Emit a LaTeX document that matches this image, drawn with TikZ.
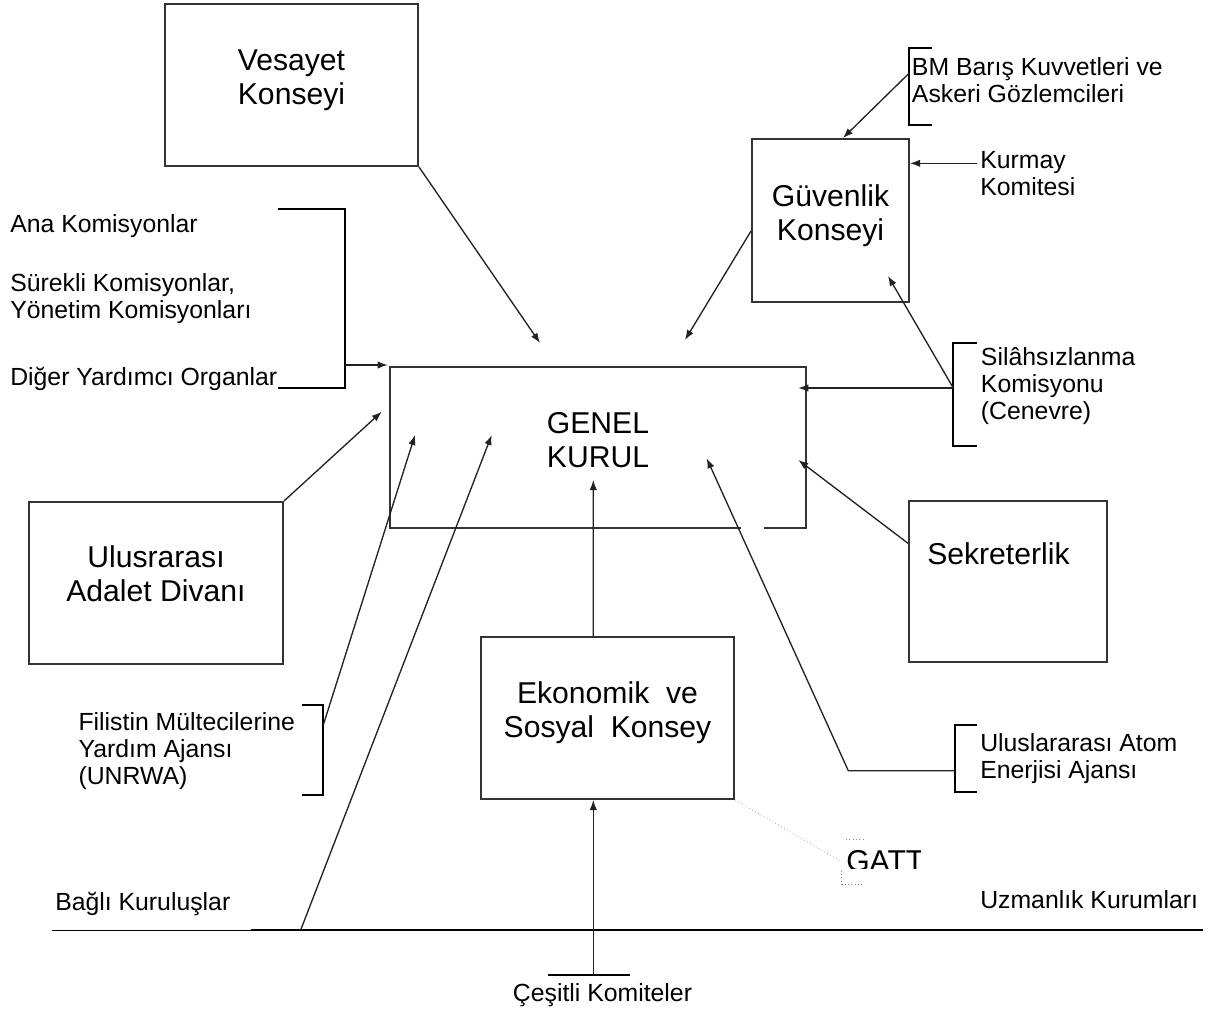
\documentclass[tikz,border=0pt]{standalone}
\usepackage{fontspec}
\setmainfont{Liberation Sans}
\usetikzlibrary{arrows.meta,fit,calc}
\definecolor{boxgray}{HTML}{333333}
\definecolor{arrgray}{HTML}{222222}
\definecolor{dotgray}{HTML}{8A8A8A}
\begin{document}
\begin{tikzpicture}[x=0.75pt,y=-0.75pt,
  box/.style={draw=boxgray, line width=1.5pt, inner sep=0pt},
  bigtxt/.style={font=\fontsize{22.6}{25.5}\selectfont, align=center, inner sep=0pt},
  smalltxt/.style={font=\fontsize{18.6}{20.25}\selectfont, align=left, inner sep=0pt},
  arr/.style={draw=arrgray, line width=1pt, -{Latex[length=7.5pt,width=5.5pt]}},
  brk/.style={draw=black, line width=1.5pt},
  dotln/.style={draw=dotgray, line width=0.5pt, dotted}]
\useasboundingbox (0,0) rectangle (1222,1013);

% boxes
\node[box, fit={(165,4) (418,166)}] (ves) {};
\node[box, fit={(752,139) (909,302)}] (gv) {};
\node[inner sep=0pt, fit={(390,367) (806,528)}] (gk) {};
\draw[boxgray, line width=1.5pt] ($(gk.south east)+(-42.7,0)$) -- (gk.south east) -- (gk.north east) -- (gk.north west) -- (gk.south west) -- ($(gk.south west)+(351.7,0)$);
\node[box, fit={(29,502) (283,664)}] (ulus) {};
\node[box, fit={(909,501) (1107,662)}] (sek) {};
\node[box, fit={(481,637) (734,799)}] (eko) {};

% big texts
\node[bigtxt, anchor=north] (vesT) at (291.5,46.2) {Vesayet\strut\\Konseyi\strut};
\node[bigtxt, anchor=north] (gvT) at (830.5,182.2) {Güvenlik\strut\\Konseyi\strut};
\node[bigtxt, anchor=north] (gkT) at (598,409.2) {GENEL\strut\\KURUL\strut};
\node[bigtxt, anchor=north] (ulusT) at (156,543.2) {Ulusrarası\strut\\Adalet Divanı\strut};
\node[bigtxt, anchor=north] (ekoT) at (607.5,679.2) {Ekonomik\ \ ve\strut\\Sosyal\ \ Konsey\strut};
\node[bigtxt, anchor=base west] (sekT) at (927,564) {Sekreterlik};
\begin{scope}
  \clip (830,830) rectangle (920,868);
  \node[bigtxt, anchor=base west] (gatt) at (846,871) {GATT};
\end{scope}

% small texts
\node[smalltxt, anchor=north west] (bmT) at (911.7,56.1) {BM Barış Kuvvetleri ve\strut\\Askeri Gözlemcileri\strut};
\node[smalltxt, anchor=north west] (kurT) at (980,149.1) {Kurmay\strut\\Komitesi\strut};
\node[smalltxt, anchor=base west] (anaT) at (10,233) {Ana Komisyonlar};
\node[smalltxt, anchor=north west] (surT) at (10,272.8) {Sürekli Komisyonlar,\strut\\Yönetim Komisyonları\strut};
\begin{scope}
  \clip (0,350) rectangle (276.5,400);
  \node[smalltxt, anchor=base west] (digT) at (10,385) {Diğer Yardımcı Organlar};
\end{scope}
\node[smalltxt, anchor=north west] (silT) at (980.7,346.8) {Silâhsızlanma\strut\\Komisyonu\strut\\(Cenevre)\strut};
\node[smalltxt, anchor=north west] (filT) at (78.3,711.1) {Filistin Mültecilerine\strut\\Yardım Ajansı\strut\\(UNRWA)\strut};
\node[smalltxt, anchor=north west] (atomT) at (980,732.8) {Uluslararası Atom\strut\\Enerjisi Ajansı\strut};
\node[smalltxt, anchor=base west] (bagT) at (55,910) {Bağlı Kuruluşlar};
\node[smalltxt, anchor=base west] (uzmT) at (980,908.3) {Uzmanlık Kurumları};
\node[smalltxt, anchor=base] (cesT) at (602.5,1001.7) {Çeşitli Komiteler};

% brackets
\draw[brk] (931.7,48.3) -- (909.3,48.3) -- (909.3,125) -- (931.7,125);
\draw[brk] (278,209.3) -- (345,209.3) -- (345,388.3) -- (278,388.3);
\draw[brk] (976.7,342.7) -- (953.3,342.7) -- (953.3,446) -- (976.7,446);
\draw[brk] (301.7,705) -- (323.3,705) -- (323.3,795) -- (301.7,795);
\draw[brk] (976.7,725) -- (955,725) -- (955,791.7) -- (976.7,791.7);
\draw[brk] (548.3,975) -- (630,975);

% base lines
\coordinate (baseL) at (51.7,930);
\coordinate (baseM) at (250.7,930);
\coordinate (baseR) at (1202.7,930);
\draw[black, line width=0.6pt] (baseL) -- (baseM);
\draw[black, line width=1.6pt] (baseM) -- (baseR);

% connector points
\coordinate (vesTip) at (540,343);
\coordinate (gvTip) at (685,340);
\coordinate (bmB) at (909.3,73);
\coordinate (kurA) at (976.7,163.3);
\coordinate (anaB) at (345,365);
\coordinate (silB) at (953.3,388);
\coordinate (silTip) at (798.3,388);
\coordinate (silUp) at (888,276);
\coordinate (sekTip) at (798.3,460);
\coordinate (atomB) at (955,770.7);
\coordinate (atomK) at (848.3,770.7);
\coordinate (atomTip) at (706.7,458.3);
\coordinate (ekoTip) at (593.3,480);
\coordinate (cesB) at (593.3,975);
\coordinate (bagB) at (300.7,930);
\coordinate (bagTip) at (491.7,435);
\coordinate (filB) at (323.3,725);
\coordinate (filTip) at (415,435);
\coordinate (ulusTip) at (381.7,411.7);
\coordinate (gattA) at (841.7,861.7);

% connectors
\draw[arr] (ves.south east) -- (vesTip);
\draw[arr] ($(gv.west)+(0,10.5)$) -- (gvTip);
\draw[arr] (bmB) -- ($(gv.north)+(12.5,0)$);
\draw[arr] (kurA) -- (kurA -| gv.east);
\draw[arr] (anaB) -- ($(anaB -| gk.west)+(-2,0)$);
\draw[arr] (silB) -- (silTip);
\draw[arr] (silB) -- (silUp);
\draw[arr] ($(sek.north west)+(0,43.3)$) -- (sekTip);
\draw[arr] (atomB) -- (atomK) -- (atomTip);
\draw[arr] ($(eko.north)+(-14.2,0)$) -- (ekoTip);
\draw[arr] (cesB) -- (cesB |- eko.south);
\draw[arr] (bagB) -- (bagTip);
\draw[arr] (filB) -- (filTip);
\draw[arr] (ulus.north east) -- (ulusTip);
\draw[dotln] (eko.south east) -- (gattA);
\draw[dotln] (846,839) -- (865,839);
\draw[dotln] (841.7,870.7) -- (841.7,884.3) -- (863.3,884.3);
\end{tikzpicture}
\end{document}
